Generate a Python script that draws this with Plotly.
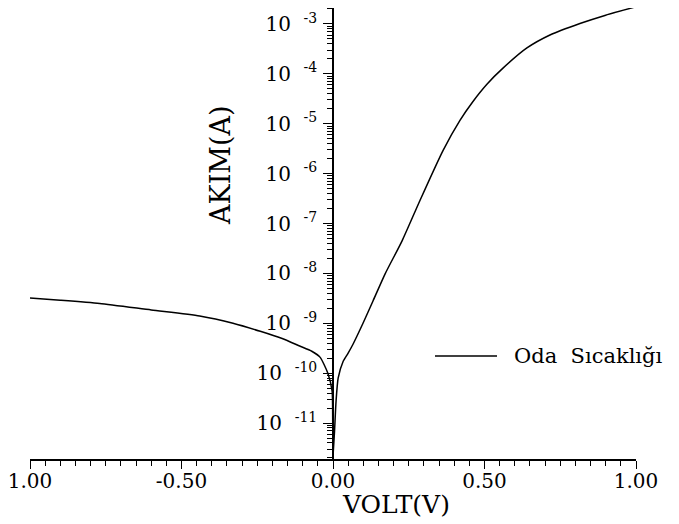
import plotly.graph_objects as go

# Data (reverse + forward bias I-V curve)
volt = [-1.0, -0.9, -0.77, -0.6, -0.44, -0.33, -0.24, -0.17, -0.11, -0.07, -0.043, -0.017, -0.003, -0.001, 0.0,
        0.001, 0.005, 0.01, 0.017, 0.033, 0.0495, 0.066, 0.099, 0.132, 0.172, 0.228, 0.287,
        0.363, 0.419, 0.462, 0.508, 0.561, 0.640, 0.716, 0.815, 0.9, 0.993]
current = [3.2e-9, 2.9e-9, 2.5e-9, 1.85e-9, 1.4e-9, 1.0e-9, 6.9e-10, 5.0e-10, 3.5e-10, 2.75e-10, 2.1e-10, 1.0e-10, 4.4e-11, 1.1e-11, 2.1e-12,
           2.7e-12, 6.8e-12, 2.7e-11, 8e-11, 1.7e-10, 2.5e-10, 3.8e-10, 1.0e-9, 2.8e-9, 9.8e-9, 4.5e-8, 2.9e-7,
           2.9e-6, 1.17e-5, 2.8e-5, 6.2e-5, 1.3e-4, 3.3e-4, 6.0e-4, 1.02e-3, 1.5e-3, 2.15e-3]

x_tickvals = [-1.0, -0.5, 0.0, 0.5, 1.0]
x_ticktext = ["1.00", "-0.50", "0.00", "0.50", "1.00"]
y_exponents = [-11, -10, -9, -8, -7, -6, -5, -4, -3]
y_tickvals = [10.0 ** e for e in y_exponents]
y_ticktext = ["10\u00a0\u00a0<sup>-%d</sup>" % (-e) for e in y_exponents]
series_name = "Oda  Sıcaklığı"

SERIF = "DejaVu Serif"
W, H = 679, 524
OFF = 8  # page body offset of the rendered figure
# plot area in window pixels: x 30..636, y 8..459
ML = 30 - OFF
MT = 8 - OFF
MR = W - (636 - OFF)
MB = H - (459 - OFF)

fig = go.Figure()
fig.add_trace(go.Scatter(x=volt, y=current, mode="lines", name=series_name,
                         line=dict(color="black", width=1.5, shape="spline", smoothing=0.6),
                         showlegend=False))

fig.update_layout(
    width=W, height=H,
    margin=dict(l=ML, r=MR, t=MT, b=MB, autoexpand=False),
    paper_bgcolor="white", plot_bgcolor="white",
    font=dict(family=SERIF, color="black"),
    xaxis=dict(
        range=[-1.0, 1.0], showgrid=False, zeroline=False,
        showline=True, linecolor="black", linewidth=1.5,
        ticks="outside", ticklen=8, tickwidth=1.3, tickcolor="black",
        tickvals=x_tickvals, ticktext=x_ticktext,
        tickfont=dict(family=SERIF, size=20, color="black"),
        ticklabeloverflow="allow", ticklabelstandoff=-5,
        minor=dict(ticks="outside", ticklen=5, tickwidth=1.2, tickcolor="black", dtick=0.05),
    ),
    yaxis=dict(
        type="log", range=[-11.72, -2.68], showgrid=False, zeroline=False,
        anchor="free", position=0.5,
        showline=True, linecolor="black", linewidth=1.5,
        ticks="outside", ticklen=9, tickwidth=1.3, tickcolor="black",
        tickvals=y_tickvals, ticktext=y_ticktext,
        tickfont=dict(family=SERIF, size=20, color="black"),
        ticklabelstandoff=2, ticklabeloverflow="allow",
        minor=dict(ticks="outside", ticklen=5, tickwidth=1.0, tickcolor="black", dtick="D1"),
    ),
)

def px_to_paper_x(px):
    return (px - OFF - ML) / (W - ML - MR)

def py_to_paper_y(py):
    return 1 - (py - OFF - MT) / (H - MT - MB)

# axis titles
fig.add_annotation(text="VOLT(V)", xref="paper", yref="paper",
                   x=px_to_paper_x(396), y=py_to_paper_y(504),
                   xanchor="center", yanchor="middle",
                   showarrow=False, font=dict(family=SERIF, size=25, color="black"))
fig.add_annotation(text="AKIM(A)", xref="paper", yref="paper", textangle=-90,
                   x=px_to_paper_x(220), y=py_to_paper_y(165),
                   xanchor="center", yanchor="middle",
                   showarrow=False, font=dict(family=SERIF, size=27, color="black"))

# legend
fig.add_shape(type="line", xref="paper", yref="paper",
              x0=px_to_paper_x(435), x1=px_to_paper_x(497),
              y0=py_to_paper_y(356), y1=py_to_paper_y(356),
              line=dict(color="black", width=1.3))
fig.add_annotation(text=series_name, xref="paper", yref="paper",
                   x=px_to_paper_x(512), y=py_to_paper_y(356),
                   xanchor="left", yanchor="middle", showarrow=False,
                   font=dict(family=SERIF, size=21, color="black"))

fig.write_html("out.html")
